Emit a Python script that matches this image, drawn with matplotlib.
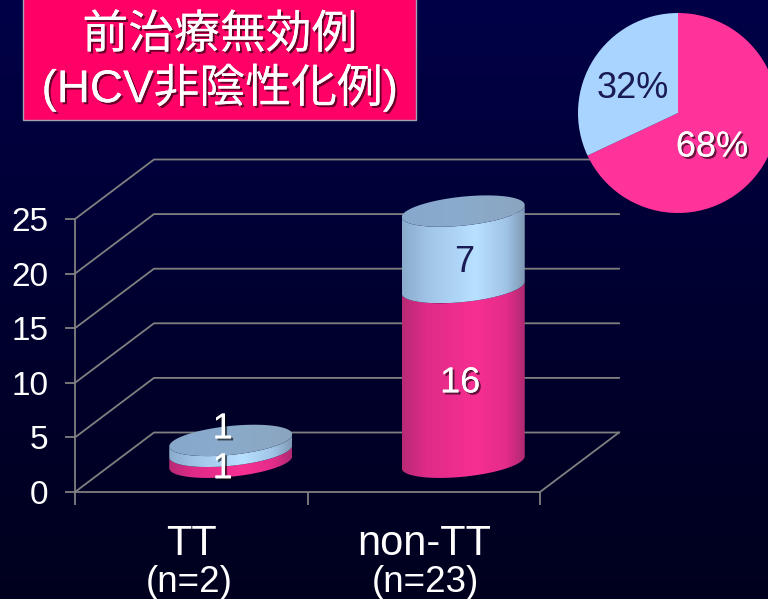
import numpy as np
import matplotlib
matplotlib.use('Agg')
import matplotlib.pyplot as plt
import matplotlib.patheffects as pe
from matplotlib.colors import LinearSegmentedColormap
from matplotlib.patches import Polygon, Rectangle

plt.rcParams['font.family'] = ['Liberation Sans', 'Noto Sans CJK JP']

# data
categories = ['TT', 'non-TT']
sample_sizes = ['(n=2)', '(n=23)']
pink_values = [1, 16]
blue_values = [1, 7]
y_ticks = [0, 5, 10, 15, 20, 25]
pie_values = [68, 32]
pie_labels = ['68%', '32%']
title_lines = ['前治療無効例', '(HCV非陰性化例)']

W, H = 768, 599
PINK = '#ff3399'
BLUE = '#a8d4ff'
GRID = '#808080'
NAVY = '#1a1a55'

# plot box in pixels (front plane of the 3d chart)
LEFT, RIGHT, TOP, BOTTOM = 75, 540, 219, 492
px_x = 2.0 / (RIGHT - LEFT)      # category units per pixel
px_y = 25.0 / (BOTTOM - TOP)     # value units per pixel
DEPTH_X = 79 * px_x
DEPTH_Y = 59.5 * px_y

shadow = [pe.withSimplePatchShadow(offset=(1.5, -1.5), shadow_rgbFace='black', alpha=0.6),
          pe.Normal()]

fig = plt.figure(figsize=(W / 100, H / 100), dpi=100)

# background
bg = fig.add_axes([0, 0, 1, 1], zorder=0)
bg.axis('off')
bg_cmap = LinearSegmentedColormap.from_list('bg', ['#000048', '#000030', '#00001e'])
bg.imshow(np.linspace(0, 1, 256)[:, None], cmap=bg_cmap, aspect='auto', extent=[0, 1, 0, 1])

ax = fig.add_axes([LEFT / W, 1 - BOTTOM / H, (RIGHT - LEFT) / W, (BOTTOM - TOP) / H], zorder=1)
ax.patch.set_visible(False)
ax.set_xlim(0, 2)
ax.set_ylim(0, 25)
for name in ['top', 'right']:
    ax.spines[name].set_visible(False)
for name in ['left', 'bottom']:
    ax.spines[name].set_color(GRID)
    ax.spines[name].set_linewidth(1.3)
ax.set_yticks(y_ticks)
ax.set_xticks([0, 1, 2])
ax.set_xticklabels([])
ax.tick_params(axis='y', colors=GRID, length=7, width=1.3, labelsize=24, labelcolor='white', pad=12)
ax.tick_params(axis='x', colors=GRID, length=9, width=1.3)

# walls and floor
for v in y_ticks:
    ax.plot([0, DEPTH_X, 2 + DEPTH_X], [v, v + DEPTH_Y, v + DEPTH_Y],
            color=GRID, lw=1.3, clip_on=False, zorder=2)
ax.plot([2, 2 + DEPTH_X], [0, DEPTH_Y], color=GRID, lw=1.3, clip_on=False, zorder=2)


def ellipse_pts(cx, v, t):
    # tilted cylinder cap: right end sits higher than the left one
    x = cx + 61.5 * px_x * np.cos(t)
    y = v + DEPTH_Y / 2 + (14.5 * np.sin(t) + 6 * np.cos(t)) * px_y
    return np.column_stack([x, y])


def shaded(path_verts, cmap, z):
    patch = Polygon(path_verts, closed=True, transform=ax.transData, fc='none', ec='none')
    ax.add_patch(patch)
    x0, x1 = path_verts[:, 0].min(), path_verts[:, 0].max()
    y0, y1 = path_verts[:, 1].min(), path_verts[:, 1].max()
    im = ax.imshow(np.linspace(0, 1, 128)[None, :], cmap=cmap, aspect='auto',
                   extent=[x0, x1, y0, y1], zorder=z)
    im.set_clip_path(patch)
    im.set_clip_box(fig.bbox)
    ax.set_xlim(0, 2)
    ax.set_ylim(0, 25)


pink_cmap = LinearSegmentedColormap.from_list(
    'p', [(0, '#b82a76'), (0.2, '#e02b88'), (0.6, '#f72f92'), (0.85, '#e42c8a'), (1, '#b02a72')])
blue_cmap = LinearSegmentedColormap.from_list(
    'b', [(0, '#8aaccc'), (0.2, '#a0c4e6'), (0.6, '#b8e0ff'), (0.85, '#a0c4e6'), (1, '#7f99b5')])
cap_cmap = LinearSegmentedColormap.from_list(
    'c', [(0, '#87a8cc'), (0.5, '#8aabcb'), (1, '#8aa5bf')])

front = np.linspace(np.pi, 2 * np.pi, 60)
whole = np.linspace(0, 2 * np.pi, 120)

for i, (p, b) in enumerate(zip(pink_values, blue_values)):
    cx = i + 0.5 + DEPTH_X / 2
    low = ellipse_pts(cx, 0, front)
    mid = ellipse_pts(cx, p, front)
    top = ellipse_pts(cx, p + b, front)
    shaded(np.vstack([low, mid[::-1]]), pink_cmap, 3)
    shaded(np.vstack([mid, top[::-1]]), blue_cmap, 4)
    shaded(ellipse_pts(cx, p + b, whole), cap_cmap, 5)

# value labels, nudged in pixels as in the original
pink_nudge = [(-8, -12), (-3, -8)]
blue_nudge = [(-8, 17), (1, -13)]
for i, (p, b) in enumerate(zip(pink_values, blue_values)):
    cx = i + 0.5 + DEPTH_X / 2
    yb = DEPTH_Y / 2
    ax.text(cx + pink_nudge[i][0] * px_x, yb + p / 2 + pink_nudge[i][1] * px_y, str(p),
            color='white', fontsize=26, ha='center', va='center', zorder=6,
            clip_on=False, path_effects=shadow)
    ax.text(cx + blue_nudge[i][0] * px_x, yb + p + b / 2 + blue_nudge[i][1] * px_y, str(b),
            color='white' if i == 0 else NAVY, fontsize=26, ha='center', va='center', zorder=6,
            clip_on=False, path_effects=shadow if i == 0 else None)

# category labels
for i, (c, n) in enumerate(zip(categories, sample_sizes)):
    ax.text(i + 0.5, -52 * px_y, c, color='white', fontsize=30, ha='center', va='center', clip_on=False)
    ax.text(i + 0.5 + (0 if i == 0 else 2) * px_x - (2 if i == 0 else 0) * px_x, -91 * px_y, n,
            color='white', fontsize=26.5, ha='center', va='center', clip_on=False)

# title box
fig.add_artist(Rectangle((23 / W, 1 - 120 / H), 393 / W, 130 / H, transform=fig.transFigure,
                         fc='#ff0066', ec='#a0a0b0', lw=1, zorder=3))
for line, y_px in zip(title_lines, [36, 88]):
    fig.text(220 / W, 1 - y_px / H, line, color='white', fontsize=33, ha='center', va='center',
             zorder=4, path_effects=shadow)

# pie
R = 100
pie_ax = fig.add_axes([(678 - R) / W, 1 - (113 + R) / H, 2 * R / W, 2 * R / H], zorder=2)
pie_ax.pie(pie_values, colors=[PINK, BLUE], startangle=90, counterclock=False, radius=1,
           wedgeprops={'linewidth': 0})
pie_ax.set_xlim(-1, 1)
pie_ax.set_ylim(-1, 1)
pie_ax.text(0.34, -0.34, pie_labels[0], color='white', fontsize=26, ha='center', va='center',
            path_effects=shadow)
pie_ax.text(-0.455, 0.25, pie_labels[1], color=NAVY, fontsize=26, ha='center', va='center')

fig.savefig('out.png', dpi=100)
